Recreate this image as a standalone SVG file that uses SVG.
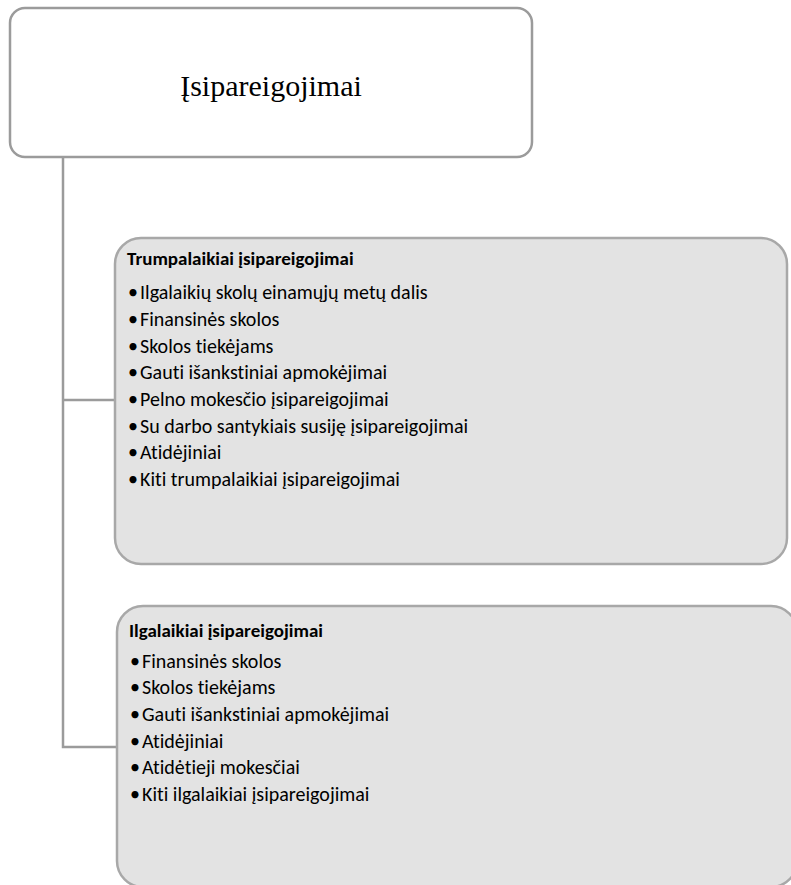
<svg xmlns="http://www.w3.org/2000/svg" width="791" height="885" viewBox="0 0 791 885">
<style>
.root{fill:#ffffff;stroke:#9b9b9b;stroke-width:2.5}
.box{fill:#e3e3e3;stroke:#a8a8a8;stroke-width:2.5}
.conn{fill:none;stroke:#9b9b9b;stroke-width:2.5}
.rt{font-family:"Liberation Serif","Times New Roman",serif;font-size:30px;fill:#000}
.t{font-family:Carlito,Calibri,Lato,"Liberation Sans",sans-serif;font-size:20px;fill:#000;font-variant-ligatures:none}
.b{font-weight:bold;font-size:19px}
</style>
<rect width="791" height="885" fill="#ffffff"/>
<g id="connectors">
<path class="conn" d="M63 157 V747 H117"/>
<path class="conn" d="M63 400 H115"/>
</g>
<g id="root">
<rect class="root" x="10" y="8" width="522" height="149" rx="15"/>
<text class="rt" x="271" y="96" text-anchor="middle">Įsipareigojimai</text>
</g>
<g id="short-term">
<rect class="box" x="115" y="238" width="672" height="326" rx="26"/>
<text class="t b" x="127" y="265">Trumpalaikiai įsipareigojimai</text>
<g class="t">
<text x="133" y="299" text-anchor="middle">•</text><text x="140" y="299">Ilgalaikių skolų einamųjų metų dalis</text>
<text x="133" y="326" text-anchor="middle">•</text><text x="140" y="326">Finansinės skolos</text>
<text x="133" y="353" text-anchor="middle">•</text><text x="140" y="353">Skolos tiekėjams</text>
<text x="133" y="379" text-anchor="middle">•</text><text x="140" y="379">Gauti išankstiniai apmokėjimai</text>
<text x="133" y="406" text-anchor="middle">•</text><text x="140" y="406">Pelno mokesčio įsipareigojimai</text>
<text x="133" y="433" text-anchor="middle">•</text><text x="140" y="433">Su darbo santykiais susiję įsipareigojimai</text>
<text x="133" y="459" text-anchor="middle">•</text><text x="140" y="459">Atidėjiniai</text>
<text x="133" y="486" text-anchor="middle">•</text><text x="140" y="486">Kiti trumpalaikiai įsipareigojimai</text>
</g>
</g>
<g id="long-term">
<rect class="box" x="117" y="606" width="680" height="281" rx="26"/>
<text class="t b" x="129" y="637">Ilgalaikiai įsipareigojimai</text>
<g class="t">
<text x="135" y="668" text-anchor="middle">•</text><text x="142" y="668">Finansinės skolos</text>
<text x="135" y="694" text-anchor="middle">•</text><text x="142" y="694">Skolos tiekėjams</text>
<text x="135" y="721" text-anchor="middle">•</text><text x="142" y="721">Gauti išankstiniai apmokėjimai</text>
<text x="135" y="748" text-anchor="middle">•</text><text x="142" y="748">Atidėjiniai</text>
<text x="135" y="774" text-anchor="middle">•</text><text x="142" y="774">Atidėtieji mokesčiai</text>
<text x="135" y="801" text-anchor="middle">•</text><text x="142" y="801">Kiti ilgalaikiai įsipareigojimai</text>
</g>
</g>
</svg>
